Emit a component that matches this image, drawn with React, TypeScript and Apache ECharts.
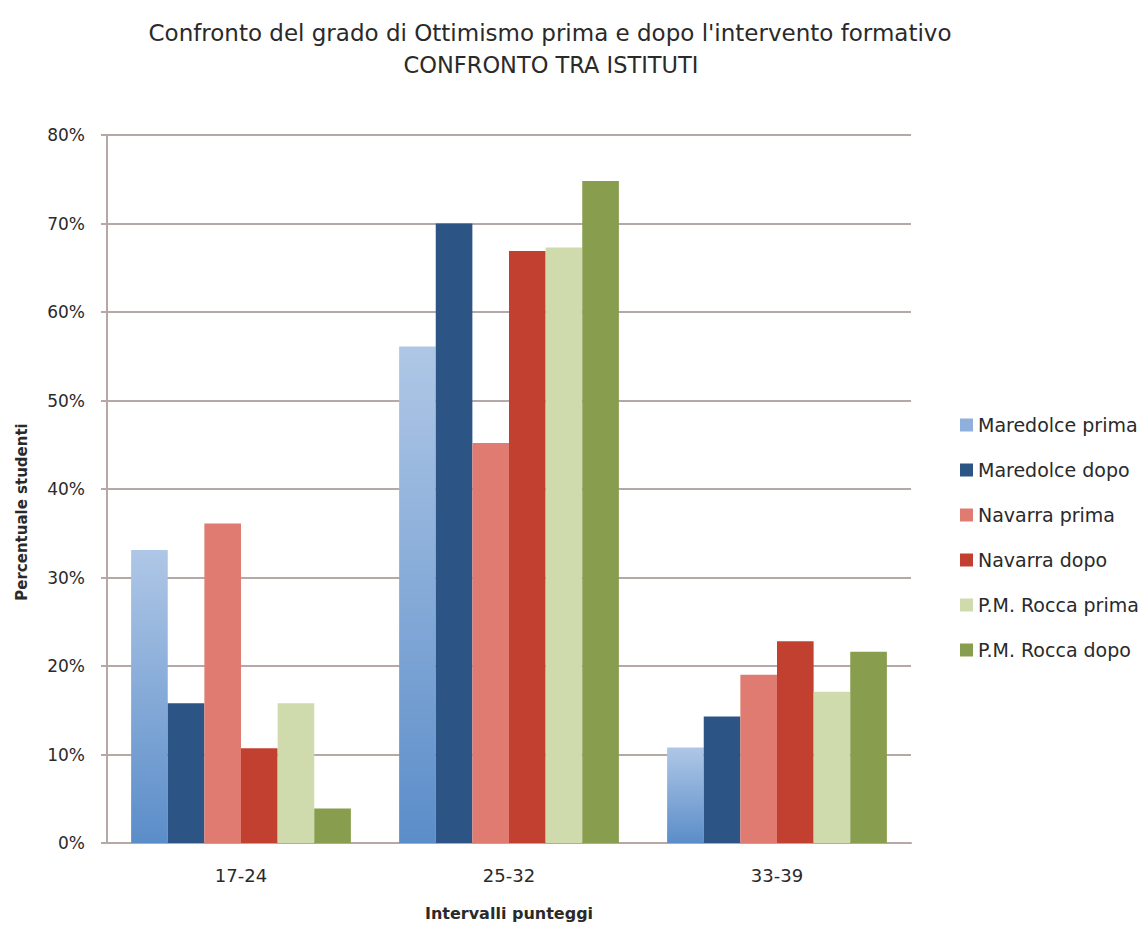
import React, { useEffect, useRef } from "react";
import * as echarts from "echarts";

const categories = ["17-24", "25-32", "33-39"];
const seriesNames = [
  "Maredolce prima",
  "Maredolce dopo",
  "Navarra prima",
  "Navarra dopo",
  "P.M. Rocca prima",
  "P.M. Rocca dopo",
];
const maredolcePrima = [0.331, 0.561, 0.108];
const maredolceDopo = [0.158, 0.70, 0.143];
const navarraPrima = [0.361, 0.452, 0.19];
const navarraDopo = [0.107, 0.669, 0.228];
const roccaPrima = [0.158, 0.673, 0.171];
const roccaDopo = [0.039, 0.748, 0.216];
const yTicks = [0, 0.1, 0.2, 0.3, 0.4, 0.5, 0.6, 0.7, 0.8];

const titleLine1 = "Confronto del grado di Ottimismo prima e dopo l'intervento formativo";
const titleLine2 = "CONFRONTO TRA ISTITUTI";
const xAxisName = "Intervalli punteggi";
const yAxisName = "Percentuale studenti";

const seriesValues = [maredolcePrima, maredolceDopo, navarraPrima, navarraDopo, roccaPrima, roccaDopo];

const FONT = "'DejaVu Sans', 'Open Sans', sans-serif";

export default function App() {
  const ref = useRef<HTMLDivElement>(null);
  useEffect(() => {
    if (!ref.current) return;
    const chart = echarts.init(ref.current, null, { renderer: "svg" });
    const colors: any[] = [
      new echarts.graphic.LinearGradient(0, 0, 0, 1, [
        { offset: 0, color: "#afc7e6" },
        { offset: 1, color: "#5b8dc9" },
      ]),
      "#2c5585",
      "#e07b72",
      "#c2402f",
      "#cfdaad",
      "#889e4e",
    ];
    const legendColors = ["#8fb0dc", "#2c5585", "#e07b72", "#c2402f", "#cfdaad", "#889e4e"];
    chart.setOption({
      animation: false,
      backgroundColor: "#ffffff",
      title: [
        {
          text: titleLine1,
          left: 545,
          textAlign: "center",
          top: 16,
          textStyle: { fontFamily: FONT, fontSize: 23, fontWeight: "normal", color: "#2a2a2a", lineHeight: 23 },
        },
        {
          text: titleLine2,
          left: 546,
          textAlign: "center",
          top: 48,
          textStyle: { fontFamily: FONT, fontSize: 22.5, fontWeight: "normal", color: "#2a2a2a", lineHeight: 23 },
        },
      ],
      legend: {
        orient: "vertical",
        left: 955,
        top: 410,
        itemWidth: 13,
        itemHeight: 13,
        itemGap: 25,
        icon: "rect",
        textStyle: { fontFamily: FONT, fontSize: 19, fontWeight: "normal", color: "#2a2a2a", lineHeight: 20 },
        data: seriesNames.map((n, i) => ({ name: n, itemStyle: { color: legendColors[i] } })),
      },
      graphic: [
        {
          type: "text",
          x: 22,
          y: 512,
          rotation: Math.PI / 2,
          style: {
            text: yAxisName,
            align: "center",
            verticalAlign: "middle",
            fontFamily: FONT,
            fontSize: 15,
            fontWeight: "bold",
            fill: "#2a2a2a",
          },
        },
      ],
      grid: { left: 107, right: 232, top: 135, bottom: 78, containLabel: false },
      xAxis: {
        type: "category",
        data: categories,
        name: xAxisName,
        nameLocation: "middle",
        nameGap: 62,
        nameTextStyle: { fontFamily: FONT, fontSize: 16, fontWeight: "bold", color: "#2a2a2a" },
        axisLine: { lineStyle: { color: "#b5a8a6", width: 2 } },
        axisTick: { show: false },
        axisLabel: { fontFamily: FONT, fontSize: 18, fontWeight: "normal", color: "#2a2a2a", margin: 23 },
      },
      yAxis: {
        type: "value",
        min: 0,
        max: 0.8,
        interval: 0.1,
        axisLine: { show: true, lineStyle: { color: "#b5a8a6", width: 2 } },
        axisTick: { show: true, length: 6, lineStyle: { color: "#b5a8a6", width: 2 } },
        axisLabel: {
          fontFamily: FONT,
          fontSize: 17,
          fontWeight: "normal",
          color: "#2a2a2a",
          margin: 22,
          formatter: (v: number) => {
            const t = yTicks.find((x) => Math.abs(x - v) < 1e-6);
            return t === undefined ? "" : Math.round(t * 100) + "%";
          },
        },
        splitLine: { lineStyle: { color: "#b5a8a6", width: 2 } },
      },
      series: seriesNames.map((name, i) => ({
        name,
        type: "bar",
        data: seriesValues[i],
        barGap: "0%",
        barCategoryGap: "18%",
        itemStyle: { color: colors[i] },
      })),
    });
    return () => chart.dispose();
  }, []);
  return (
    <div
      ref={ref}
      style={{ position: "fixed", left: 0, top: 0, width: 1143, height: 926 }}
    />
  );
}
